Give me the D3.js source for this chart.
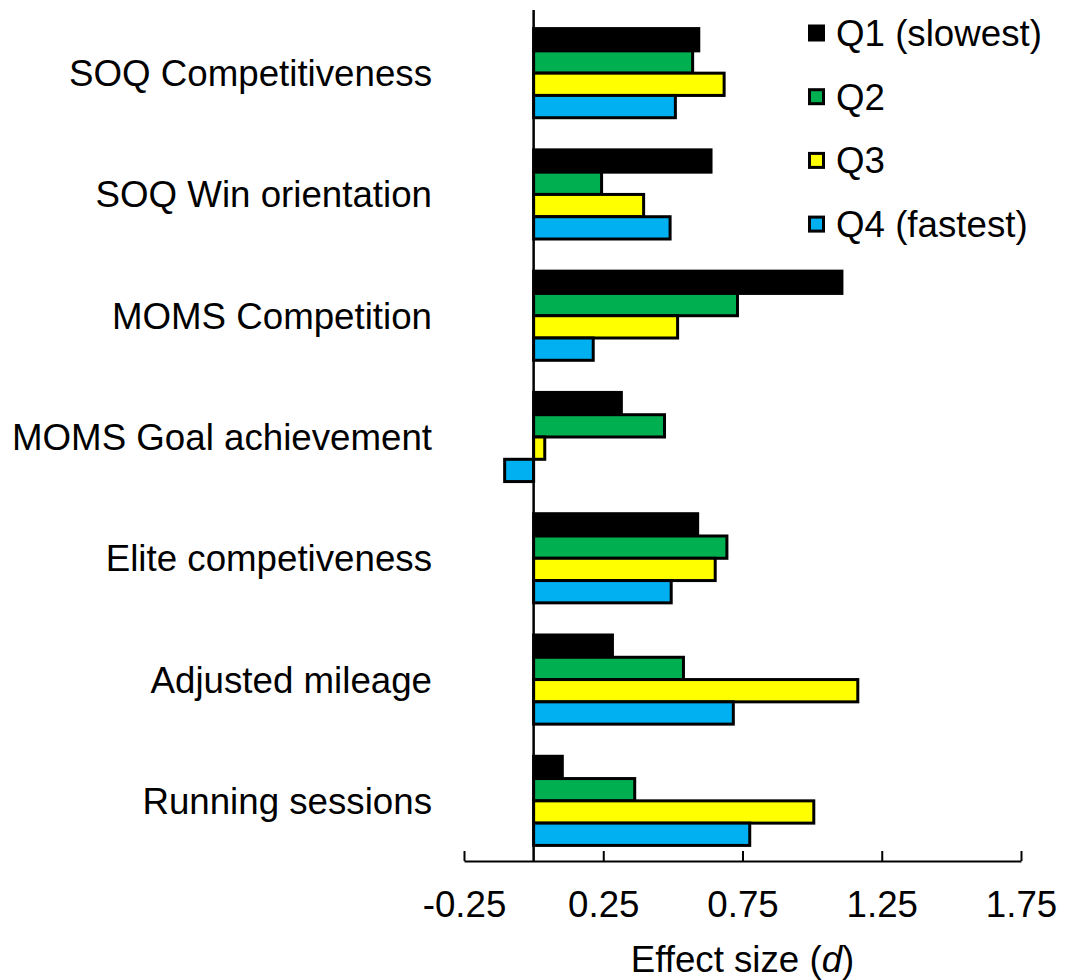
<!DOCTYPE html>
<html>
<head>
<meta charset="utf-8">
<script src="https://cdn.jsdelivr.net/npm/d3@7"></script>
<style>
  html, body { margin: 0; padding: 0; background: #fff; }
  svg { display: block; font-family: "Liberation Sans", Arial, sans-serif; }
</style>
</head>
<body>
<svg id="chart" width="1076" height="980"></svg>
<script>
// Outcome measures (top to bottom)
const categories = [
  "SOQ Competitiveness",
  "SOQ Win orientation",
  "MOMS Competition",
  "MOMS Goal achievement",
  "Elite competiveness",
  "Adjusted mileage",
  "Running sessions"
];

// Performance quartiles
const seriesNames = ["Q1 (slowest)", "Q2", "Q3", "Q4 (fastest)"];
const seriesKeys = ["Q1", "Q2", "Q3", "Q4"];
const seriesColors = ["#000000", "#00B050", "#FFFF00", "#00B0F0"];

// Effect sizes (d) per quartile, one value per category
const q1Values = [0.593, 0.637, 1.107, 0.315, 0.589, 0.283, 0.103];
const q2Values = [0.571, 0.244, 0.732, 0.470, 0.694, 0.538, 0.363];
const q3Values = [0.684, 0.395, 0.517, 0.040, 0.652, 1.164, 1.006];
const q4Values = [0.509, 0.490, 0.214, -0.104, 0.494, 0.717, 0.776];

const tickValues = [-0.25, 0.25, 0.75, 1.25, 1.75];
const tickLabels = ["-0.25", "0.25", "0.75", "1.25", "1.75"];

const seriesValues = [q1Values, q2Values, q3Values, q4Values];

const FONT = 36.7;

const svg = d3.select("#chart");

const x = d3.scaleLinear().domain([-0.25, 1.75]).range([464, 1021]);
const axisY = 861;

const y = d3.scaleBand()
  .domain(categories)
  .range([11, 863])
  .paddingInner(0.265)
  .paddingOuter(0.145);

const ySub = d3.scaleBand()
  .domain(seriesKeys)
  .range([0, y.bandwidth()]);

// Bars
const groups = svg.append("g").selectAll("g")
  .data(categories)
  .join("g")
  .attr("transform", d => `translate(0,${y(d)})`);

groups.selectAll("rect")
  .data((c, ci) => seriesKeys.map((k, si) => ({ key: k, si, value: seriesValues[si][ci] })))
  .join("rect")
  .attr("x", d => x(Math.min(0, d.value)))
  .attr("y", d => ySub(d.key))
  .attr("width", d => Math.abs(x(d.value) - x(0)))
  .attr("height", ySub.bandwidth())
  .attr("fill", d => seriesColors[d.si])
  .attr("stroke", "#000")
  .attr("stroke-width", 3);

// Vertical zero line
svg.append("line")
  .attr("x1", x(0)).attr("x2", x(0))
  .attr("y1", 10).attr("y2", axisY)
  .attr("stroke", "#000")
  .attr("stroke-width", 2.5);

// Category labels
svg.append("g").selectAll("text")
  .data(categories)
  .join("text")
  .attr("x", 432)
  .attr("y", d => y(d) + y.bandwidth() / 2 + 13)
  .attr("text-anchor", "end")
  .attr("font-size", FONT)
  .attr("fill", "#000")
  .text(d => d);

// X axis
const xAxis = d3.axisBottom(x)
  .tickValues(tickValues)
  .tickFormat((d, i) => tickLabels[i])
  .tickSizeInner(-10)
  .tickSizeOuter(0)
  .tickPadding(30);

const gx = svg.append("g")
  .attr("transform", `translate(0,${axisY})`)
  .call(xAxis);
gx.select(".domain").attr("stroke", "#000").attr("stroke-width", 2);
gx.selectAll(".tick line").attr("stroke", "#000").attr("stroke-width", 2);
gx.selectAll(".tick text")
  .attr("font-size", FONT)
  .attr("font-family", "'Liberation Sans', Arial, sans-serif")
  .attr("fill", "#000");

// Axis title
const title = svg.append("text")
  .attr("x", (x(-0.25) + x(1.75)) / 2)
  .attr("y", 972)
  .attr("text-anchor", "middle")
  .attr("font-size", FONT)
  .attr("fill", "#000");
title.append("tspan").text("Effect size (");
title.append("tspan").attr("font-style", "italic").text("d");
title.append("tspan").text(")");

// Legend
const legend = svg.append("g").attr("transform", "translate(808,33)");
const items = legend.selectAll("g")
  .data(seriesNames)
  .join("g")
  .attr("transform", (d, i) => `translate(0,${i * 63.7})`);
items.append("rect")
  .attr("x", 1.5).attr("y", -7)
  .attr("width", 14).attr("height", 14)
  .attr("fill", (d, i) => seriesColors[i])
  .attr("stroke", "#000")
  .attr("stroke-width", 3);
items.append("text")
  .attr("x", 28)
  .attr("y", 13)
  .attr("font-size", FONT)
  .attr("fill", "#000")
  .text(d => d);
</script>
</body>
</html>
